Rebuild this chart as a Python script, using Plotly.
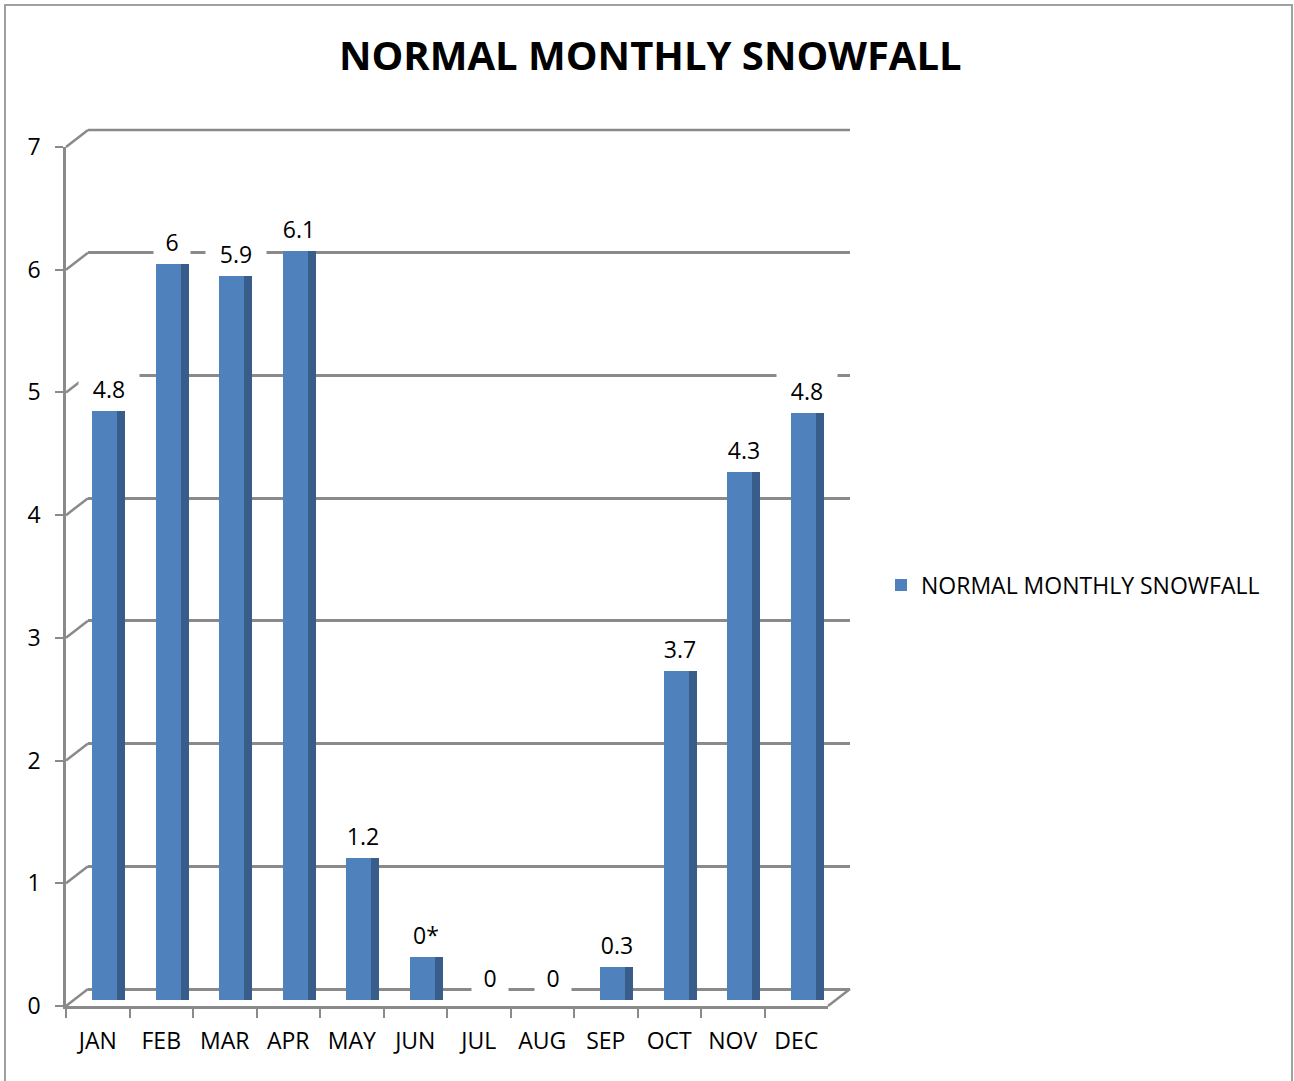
import plotly.graph_objects as go

# ---------------- data ----------------
months = ["JAN", "FEB", "MAR", "APR", "MAY", "JUN", "JUL", "AUG", "SEP", "OCT", "NOV", "DEC"]
bar_heights = [4.8, 6.0, 5.9, 6.1, 1.16, 0.35, 0.0, 0.0, 0.27, 2.68, 4.3, 4.78]
value_labels = ["4.8", "6", "5.9", "6.1", "1.2", "0*", "0", "0", "0.3", "3.7", "4.3", "4.8"]
y_ticks = [0, 1, 2, 3, 4, 5, 6, 7]
series_name = "NORMAL MONTHLY SNOWFALL"
chart_title = "NORMAL MONTHLY SNOWFALL"

# ---------------- style ----------------
W, H = 1294, 1081
FONT = "Open Sans"
FRONT = "#4F81BD"
SIDE = "#385D8A"
GRID = "#8A8A8A"
DEPTH_X, DEPTH_Y = 22, 17      # pixel depth of the 3-D floor / wall
BAR_DX, BAR_DY = 6.75, 6       # bar plane offset from the front plane
SIDE_DX, SIDE_DY = 8.5, 0      # side face offset from bar front face


def dom_x(left, right):
    return [left / W, right / W]


def dom_y(top, bottom):
    return [1 - bottom / H, 1 - top / H]


FX0, FX1 = 66, 828      # front plane x extent (px)
FY0, FY1 = 147, 1006    # front plane y extent (px), top / bottom
yrange = [y_ticks[0], y_ticks[-1]]
xrange = [-0.5, len(months) - 0.5]

fig = go.Figure()

# front-plane subplot carrier (axes, ticks, labels only)
fig.add_trace(go.Scatter(
    x=months, y=bar_heights, mode="none", xaxis="x", yaxis="y",
    showlegend=False, hoverinfo="skip",
))
# back wall subplot carrier (gridlines only)
fig.add_trace(go.Scatter(
    x=months, y=bar_heights, mode="none", xaxis="x2", yaxis="y2",
    showlegend=False, hoverinfo="skip",
))
# side faces (darker), drawn behind front faces
fig.add_trace(go.Bar(
    x=months, y=bar_heights, width=0.394,
    marker=dict(color=SIDE, line=dict(width=0)),
    xaxis="x3", yaxis="y3", showlegend=False, hoverinfo="skip",
))
# front faces
fig.add_trace(go.Bar(
    x=months, y=bar_heights, width=0.394, name=series_name,
    marker=dict(color=FRONT, line=dict(width=0)),
    xaxis="x4", yaxis="y4", showlegend=True,
))

tickfont = dict(family=FONT, size=23, color="#000000")
cat_axis = dict(type="category", categoryorder="array", categoryarray=months, range=xrange)

layout = dict(
    width=W, height=H,
    margin=dict(l=0, r=0, t=0, b=0, autoexpand=False),
    paper_bgcolor="white", plot_bgcolor="rgba(0,0,0,0)",
    font=dict(family=FONT, color="#000000"),
    bargap=0,
    # front plane: axis lines, ticks, labels
    xaxis=dict(
        domain=dom_x(FX0, FX1), anchor="y", **cat_axis,
        showline=True, linecolor=GRID, linewidth=2.5,
        ticks="outside", tickson="boundaries", ticklen=9, tickwidth=2, tickcolor=GRID,
        tickfont=tickfont, showgrid=False, zeroline=False, ticklabelstandoff=13,
        automargin=False,
    ),
    yaxis=dict(
        domain=dom_y(FY0, FY1), anchor="x", range=yrange, tickvals=y_ticks,
        showline=True, linecolor=GRID, linewidth=2.5,
        ticks="outside", ticklen=8, tickwidth=2, tickcolor=GRID,
        tickfont=tickfont, showgrid=False, zeroline=False, ticklabelstandoff=10,
        automargin=False,
    ),
    # back wall: gridlines
    xaxis2=dict(
        domain=dom_x(FX0 + DEPTH_X, FX1 + DEPTH_X), anchor="y2", **cat_axis,
        visible=False, showgrid=False, zeroline=False,
    ),
    yaxis2=dict(
        domain=dom_y(FY0 - DEPTH_Y, FY1 - DEPTH_Y), anchor="x2", range=yrange,
        tickvals=y_ticks, showticklabels=False, ticks="",
        showgrid=True, gridcolor=GRID, gridwidth=2.5,
        zeroline=True, zerolinecolor=GRID, zerolinewidth=2.5, showline=False,
    ),
    # side-face plane
    xaxis3=dict(
        domain=dom_x(FX0 + BAR_DX + SIDE_DX, FX1 + BAR_DX + SIDE_DX), anchor="y3",
        **cat_axis, visible=False,
    ),
    yaxis3=dict(
        domain=dom_y(FY0 - BAR_DY - SIDE_DY, FY1 - BAR_DY - SIDE_DY), anchor="x3",
        range=yrange, visible=False,
    ),
    # bar front-face plane
    xaxis4=dict(
        domain=dom_x(FX0 + BAR_DX, FX1 + BAR_DX), anchor="y4",
        **cat_axis, visible=False,
    ),
    yaxis4=dict(
        domain=dom_y(FY0 - BAR_DY, FY1 - BAR_DY), anchor="x4",
        range=yrange, visible=False,
    ),
    legend=dict(
        x=881 / W, y=1 - 585 / H, xanchor="left", yanchor="middle",
        font=dict(family=FONT, size=23, color="#000000"),
        bgcolor="rgba(0,0,0,0)", itemclick=False,
    ),
    showlegend=True,
)
fig.update_layout(**layout)


def frac(v):
    return (v - yrange[0]) / (yrange[1] - yrange[0])


shapes = []
# diagonal connectors from front axis to back wall at every tick
for v in y_ticks:
    shapes.append(dict(
        type="line", xref="x domain", yref="y domain",
        xsizemode="pixel", xanchor=0, x0=0, x1=DEPTH_X,
        ysizemode="pixel", yanchor=frac(v), y0=0, y1=DEPTH_Y,
        line=dict(color=GRID, width=2.5), layer="below",
    ))
# right floor edge
shapes.append(dict(
    type="line", xref="x domain", yref="y domain",
    xsizemode="pixel", xanchor=1, x0=0, x1=DEPTH_X,
    ysizemode="pixel", yanchor=frac(yrange[0]), y0=0, y1=DEPTH_Y,
    line=dict(color=GRID, width=2.5), layer="below",
))
# top back-wall gridline (edge of the wall)
shapes.append(dict(
    type="line", xref="x2 domain", yref="y2 domain",
    x0=0, x1=1, y0=frac(yrange[1]), y1=frac(yrange[1]),
    line=dict(color=GRID, width=2.5), layer="below",
))
# chart-area border
shapes.append(dict(
    type="rect", xref="paper", yref="paper",
    x0=5 / W, x1=1292 / W, y0=-0.02, y1=1 - 5 / H,
    line=dict(color="#A0A0A0", width=2), fillcolor="rgba(0,0,0,0)", layer="above",
))
fig.update_layout(shapes=shapes)

annotations = []
for m, h, lab in zip(months, bar_heights, value_labels):
    annotations.append(dict(
        xref="x4", yref="y4", x=m, y=h, text=lab, showarrow=False,
        xanchor="center", yanchor="bottom", xshift=4, yshift=2,
        font=dict(family=FONT, size=23, color="#000000"),
        bgcolor="white", borderpad=3, width=12 * len(lab) + 18,
    ))
annotations.append(dict(
    xref="paper", yref="paper", x=650 / W, y=1 - 54 / H,
    xanchor="center", yanchor="middle", showarrow=False,
    text=chart_title, font=dict(family=FONT, size=40, color="#000000", weight=700),
))
fig.update_layout(annotations=annotations)

fig.write_html(
    "out.html",
    config={"displayModeBar": False},
    post_script="document.body.style.margin='0';document.body.style.overflow='hidden';",
)
